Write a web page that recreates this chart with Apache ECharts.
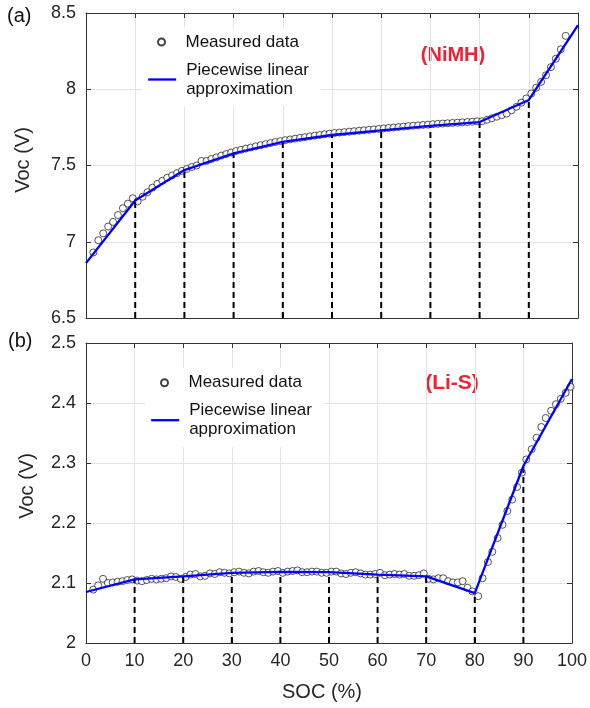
<!DOCTYPE html>
<html><head><meta charset="utf-8">
<script src="https://cdn.jsdelivr.net/npm/echarts@6/dist/echarts.min.js"></script>
<style>html,body{margin:0;padding:0;background:#fff}#c{width:590px;height:708px}</style>
</head><body><div id="c"></div>
<script>
// ---- data ----
const socTicks = [0,10,20,30,40,50,60,70,80,90,100];
const nimhTicks = [6.5,7,7.5,8,8.5];
const lisTicks = [2,2.1,2.2,2.3,2.4,2.5];

const breakSoc = [0,10,20,30,40,50,60,70,80,90,100];
const nimhLine = [6.86,7.27,7.47,7.58,7.655,7.70,7.73,7.76,7.785,7.93,8.42];
const lisLine  = [2.085,2.106,2.111,2.117,2.1185,2.118,2.114,2.111,2.083,2.295,2.44];

const nimhSoc = [1.5,2.5,3.5,4.5,5.5,6.5,7.5,8.5,9.5,10.5,11.5,12.5,13.5,14.5,15.5,16.5,17.5,18.5,19.5,20.5,
21.5,22.5,23.5,24.5,25.5,26.5,27.5,28.5,29.5,30.5,31.5,32.5,33.5,34.5,35.5,36.5,37.5,38.5,39.5,40.5,
41.5,42.5,43.5,44.5,45.5,46.5,47.5,48.5,49.5,50.5,51.5,52.5,53.5,54.5,55.5,56.5,57.5,58.5,59.5,60.5,
61.5,62.5,63.5,64.5,65.5,66.5,67.5,68.5,69.5,70.5,71.5,72.5,73.5,74.5,75.5,76.5,77.5,78.5,79.5,80.5,
81.5,82.5,83.5,84.5,85.5,86.5,87.5,88.5,89.5,90.5,91.5,92.5,93.5,94.5,95.5,96.5,97.5];
const nimhV = [6.93,7.01,7.055,7.10,7.13,7.175,7.22,7.25,7.285,7.265,7.295,7.325,7.355,7.38,7.40,7.42,7.435,7.45,7.465,7.478,
7.49,7.50,7.53,7.53,7.543,7.553,7.565,7.575,7.585,7.595,7.603,7.611,7.618,7.626,7.633,7.64,7.647,7.654,7.66,7.666,
7.671,7.676,7.681,7.686,7.691,7.696,7.70,7.705,7.709,7.713,7.716,7.719,7.722,7.725,7.728,7.731,7.734,7.737,7.74,7.743,
7.746,7.749,7.752,7.755,7.758,7.761,7.763,7.766,7.768,7.771,7.773,7.775,7.777,7.779,7.781,7.783,7.785,7.787,7.79,7.79,
7.80,7.81,7.82,7.83,7.84,7.862,7.885,7.912,7.94,7.972,8.01,8.048,8.092,8.145,8.20,8.262,8.35];

const lisSoc = [1.5,2.5,3.5,4.5,5.5,6.5,7.5,8.5,9.5,10.5,11.5,12.5,13.5,14.5,15.5,16.5,17.5,18.5,19.5,20.5,
21.5,22.5,23.5,24.5,25.5,26.5,27.5,28.5,29.5,30.5,31.5,32.5,33.5,34.5,35.5,36.5,37.5,38.5,39.5,40.5,
41.5,42.5,43.5,44.5,45.5,46.5,47.5,48.5,49.5,50.5,51.5,52.5,53.5,54.5,55.5,56.5,57.5,58.5,59.5,60.5,
61.5,62.5,63.5,64.5,65.5,66.5,67.5,68.5,69.5,70.5,71.5,72.5,73.5,74.5,75.5,76.5,77.5,78.5,79.5,80.7,
81.6,82.7,83.6,84.7,85.7,86.7,87.7,88.7,89.7,90.6,91.7,92.7,93.7,94.6,95.7,96.7,97.7,98.7,99.7];
const lisV = [2.089,2.096,2.107,2.100,2.101,2.102,2.103,2.105,2.106,2.104,2.103,2.105,2.107,2.106,2.107,2.108,2.111,2.110,2.107,2.110,
2.114,2.115,2.111,2.112,2.116,2.115,2.118,2.117,2.116,2.118,2.119,2.117,2.116,2.119,2.120,2.118,2.117,2.119,2.120,2.117,
2.119,2.120,2.121,2.118,2.118,2.119,2.119,2.117,2.117,2.119,2.119,2.116,2.115,2.117,2.118,2.116,2.114,2.114,2.115,2.117,
2.113,2.114,2.115,2.114,2.115,2.112,2.112,2.113,2.116,2.107,2.106,2.108,2.108,2.103,2.101,2.101,2.103,2.092,2.086,2.078,
2.108,2.135,2.152,2.175,2.197,2.220,2.239,2.260,2.284,2.306,2.323,2.342,2.360,2.375,2.387,2.398,2.407,2.417,2.427];

// ---- chart ----
const FONT = "'Liberation Sans', Arial, sans-serif";
const AX = '#333';
const TXT = '#262626';
const chart = echarts.init(document.getElementById('c'), null, {renderer:'canvas'});
const zip = (a,b) => a.map((v,i)=>[v,b[i]]);
const fmt = ticks => v => { const t = ticks.find(x=>Math.abs(x-v)<1e-9); return t===undefined ? '' : String(t); };

function xAx(grid, pos, showLabel, name){
  return {
    gridIndex:grid, type:'value', position:pos,
    min:socTicks[0], max:socTicks[socTicks.length-1], interval:socTicks[1]-socTicks[0],
    axisLine:{show:true, onZero:false, lineStyle:{color:AX, width:1}},
    axisTick:{show:true, inside:true, length:5, lineStyle:{color:AX}},
    axisLabel:{show:showLabel, margin:9, fontSize:18, color:TXT, fontFamily:FONT, formatter:fmt(socTicks)},
    splitLine:{show:pos==='bottom', lineStyle:{color:'#e3e3e3', width:1}},
    name: name||'', nameLocation:'middle', nameGap:39,
    nameTextStyle:{fontSize:20, color:TXT, fontFamily:FONT, padding:[0,14,0,0]}
  };
}
function yAx(grid, pos, ticks, showLabel, name, gap, pad){
  return {
    gridIndex:grid, type:'value', position:pos,
    min:ticks[0], max:ticks[ticks.length-1], interval:+(ticks[1]-ticks[0]).toFixed(6),
    axisLine:{show:true, onZero:false, lineStyle:{color:AX, width:1}},
    axisTick:{show:true, inside:true, length:5, lineStyle:{color:AX}},
    axisLabel:{show:showLabel, margin:10, fontSize:18, color:TXT, fontFamily:FONT, formatter:fmt(ticks)},
    splitLine:{show:pos==='left', lineStyle:{color:'#e3e3e3', width:1}},
    name: name||'', nameLocation:'middle', nameGap:gap||50,
    nameTextStyle:{fontSize:20, color:TXT, fontFamily:FONT, padding:[0,0,0,pad||0]}
  };
}

const series = [];
function addPlot(xi, yi, soc, v, bLine, yMin){
  series.push({type:'scatter', name:'Measured data', xAxisIndex:xi, yAxisIndex:yi,
    data:zip(soc, v), symbol:'circle', symbolSize:7,
    itemStyle:{color:'#ffffff', borderColor:'#111', borderWidth:0.9}, z:2, silent:true});
  for (let i=1;i<breakSoc.length-1;i++){
    series.push({type:'line', name:'guide', xAxisIndex:xi, yAxisIndex:yi,
      data:[[breakSoc[i], yMin],[breakSoc[i], bLine[i]]], symbol:'none',
      lineStyle:{color:'#000', width:2, type:[6,4]}, z:3, silent:true});
  }
  series.push({type:'line', name:'Piecewise linear approximation', xAxisIndex:xi, yAxisIndex:yi,
    data:zip(breakSoc, bLine), symbol:'none',
    lineStyle:{color:'#0000ff', width:2.3}, itemStyle:{color:'#0000ff'}, z:4, silent:true});
}
addPlot(0, 0, nimhSoc, nimhV, nimhLine, nimhTicks[0]);
addPlot(2, 2, lisSoc, lisV, lisLine, lisTicks[0]);

function legends(dx, dy){
  const ts = {fontSize:17, lineHeight:19, color:'#111', fontFamily:FONT, padding:[0,0,0,5]};
  return [
    {orient:'vertical', left:152+dx, top:27.5+dy, itemWidth:28, itemHeight:7, padding:[5,12,5,5],
     backgroundColor:'#fff', selectedMode:false, textStyle:ts, data:['Measured data']},
    {orient:'vertical', left:142+dx, top:55.5+dy, itemWidth:28, itemHeight:14, padding:[5,12,8,5],
     backgroundColor:'#fff', selectedMode:false, textStyle:ts,
     itemStyle:{opacity:0}, lineStyle:{color:'#0000ff', width:2.3, opacity:1},
     formatter: n => n.replace(' approximation','\napproximation'),
     data:['Piecewise linear approximation']}
  ];
}

const option = {
  animation:false,
  backgroundColor:'#fff',
  grid:[
    {left:86, top:13, width:492, height:305},
    {left:86, top:343, width:493, height:300}
  ],
  xAxis:[xAx(0,'bottom',false), xAx(0,'top',false), xAx(1,'bottom',true,'SOC (%)'), xAx(1,'top',false)],
  yAxis:[yAx(0,'left',nimhTicks,true,'Voc (V)',53,11), yAx(0,'right',nimhTicks,false),
         yAx(1,'left',lisTicks,true,'Voc (V)',49,14), yAx(1,'right',lisTicks,false)],
  legend:[...legends(0,0), ...legends(3,340.7)],
  graphic:[
    {type:'text', left:7, top:6, style:{text:'(a)', fontSize:20, fontFamily:FONT, fill:'#111'}},
    {type:'text', left:8, top:331, style:{text:'(b)', fontSize:20, fontFamily:FONT, fill:'#111'}},
    {type:'text', x:453, y:55, style:{text:'(NiMH)', fontSize:20, fontWeight:'bold', fontFamily:FONT, fill:'#ee2233', align:'center', verticalAlign:'middle'}},
    {type:'text', x:452, y:383, style:{text:'(Li-S)', fontSize:21, fontWeight:'bold', fontFamily:FONT, fill:'#ee2233', align:'center', verticalAlign:'middle'}}
  ],
  series
};
chart.setOption(option);
</script></body></html>
